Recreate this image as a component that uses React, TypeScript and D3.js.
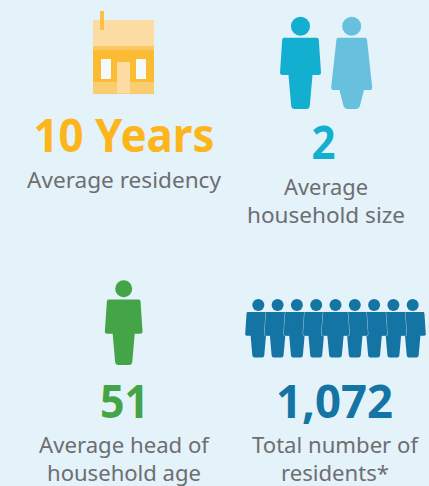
import React from "react";
import * as d3 from "d3";

const statValues = ["10 Years", "2", "51", "1,072"];
const statLabels = [["Average residency"], ["Average", "household size"], ["Average head of", "household age"], ["Total number of", "residents*"]];
const householdSize = 2;
const headCount = 1;
const residentIcons = 9;

const W = 429, H = 486;
const FONT = "'Noto Sans', sans-serif";
const BG = "#e4f2f9";
const GREY = "#6d6e71";
const colors = ["#fdb51c", "#12afd0", "#43a548", "#1474a4"];

// [cx, baseline, width] per text line
const valueLayout = [[124, 152.3, 181], [323.5, 158.7, 24], [124.5, 417.7, 49], [334.5, 417.7, 117]];
const labelLayout = [
  [[124, 188, 194]],
  [[326, 195, 84], [326, 222.7, 158]],
  [[124, 453.3, 170], [124, 480.7, 154]],
  [[335, 453.3, 166], [335, 481, 108]],
];

function man(cx: number, top: number, s: number, wide = 1) {
  const p = d3.path();
  const y = (v: number) => top + v * s;
  const x = (v: number) => cx + v * s * wide;
  p.moveTo(x(-16.5), y(21));
  p.lineTo(x(16.5), y(21));
  p.quadraticCurveTo(x(18), y(21), x(18.3), y(23));
  p.lineTo(x(20.5), y(56));
  p.quadraticCurveTo(x(20.5), y(58.3), x(18), y(58.3));
  p.lineTo(x(12), y(58.3));
  p.lineTo(x(9.3), y(89));
  p.quadraticCurveTo(x(8.8), y(92.3), x(6), y(92.3));
  p.lineTo(x(-6), y(92.3));
  p.quadraticCurveTo(x(-8.8), y(92.3), x(-9.3), y(89));
  p.lineTo(x(-12), y(58.3));
  p.lineTo(x(-18), y(58.3));
  p.quadraticCurveTo(x(-20.5), y(58.3), x(-20.5), y(56));
  p.lineTo(x(-18.3), y(23));
  p.quadraticCurveTo(x(-18), y(21), x(-16.5), y(21));
  p.closePath();
  return p.toString();
}

function woman(cx: number, top: number) {
  const p = d3.path();
  const y = (v: number) => top + v;
  const x = (v: number) => cx + v;
  p.moveTo(x(-13.5), y(21));
  p.lineTo(x(13.5), y(21));
  p.quadraticCurveTo(x(15), y(21), x(15.3), y(23));
  p.lineTo(x(20.5), y(70.5));
  p.quadraticCurveTo(x(20.8), y(73.3), x(18), y(73.3));
  p.lineTo(x(12.3), y(73.3));
  p.lineTo(x(8.5), y(88));
  p.quadraticCurveTo(x(7.5), y(92.3), x(4), y(92.3));
  p.lineTo(x(-4), y(92.3));
  p.quadraticCurveTo(x(-7.5), y(92.3), x(-8.5), y(88));
  p.lineTo(x(-12.3), y(73.3));
  p.lineTo(x(-18), y(73.3));
  p.quadraticCurveTo(x(-20.8), y(73.3), x(-20.5), y(70.5));
  p.lineTo(x(-15.3), y(23));
  p.quadraticCurveTo(x(-15), y(21), x(-13.5), y(21));
  p.closePath();
  return p.toString();
}

const residentX = d3.scalePoint<number>().domain(d3.range(residentIcons)).range([258.3, 412.7]);
const householdX = d3.scalePoint<number>().domain(d3.range(householdSize)).range([300.5, 351.7]);
const residentOrder = [0, 8, 1, 7, 2, 6, 3, 5, 4];

export default function App() {
  return (
    <svg width={W} height={H} viewBox={`0 0 ${W} ${H}`} style={{ position: "fixed", left: 0, top: 0, display: "block" }}>
      <rect width={W} height={H} fill={BG} />

      {/* house */}
      <g>
        <rect x={93} y={20} width={61} height={26} fill="#fddca4" />
        <rect x={100} y={11} width={4} height={19} fill="#fbbf4a" />
        <rect x={93} y={46} width={61} height={4} fill="#fcc861" />
        <rect x={93} y={50} width={61} height={32} fill="#fbbc33" />
        <rect x={93} y={82} width={61} height={11.3} fill="#fbcd72" />
        <rect x={93} y={93.3} width={61} height={0.7} fill="#fbbc33" />
        <rect x={101} y={59} width={10} height={20} fill="#f4f9fb" />
        <rect x={136} y={59} width={10} height={20} fill="#f4f9fb" />
        <rect x={117} y={62} width={13} height={31.3} fill="#fddca4" />
      </g>

      {/* household */}
      {d3.range(householdSize).map((i) => {
        const cx = householdX(i)!;
        const fill = i === 0 ? colors[1] : "#67c0dd";
        return (
          <g key={i} fill={fill}>
            <circle cx={cx} cy={26.3} r={9.5} />
            <path d={i === 0 ? man(cx, 16.7, 1) : woman(cx, 16.7)} />
          </g>
        );
      })}

      {/* head of household */}
      {d3.range(headCount).map((i) => (
        <g key={i} fill={colors[2]}>
          <circle cx={123.7} cy={288.7} r={8.5} />
          <path d={man(123.7, 280.2, 0.92)} />
        </g>
      ))}

      {/* residents */}
      {residentOrder.map((i) => {
        const cx = residentX(i)!;
        return (
          <g key={i} fill={colors[3]}>
            <circle cx={cx} cy={305} r={6} />
            <path d={man(cx, 298.5, 0.64, i === 4 ? 1.06 : 1)} stroke={BG} strokeWidth={0.7} paintOrder="stroke" />
          </g>
        );
      })}

      {statValues.map((v, i) => (
        <text key={v} x={valueLayout[i][0]} y={valueLayout[i][1]} textAnchor="middle" fill={colors[i]}
          fontFamily={FONT} fontWeight={700} fontSize={46}
          textLength={valueLayout[i][2]} lengthAdjust="spacingAndGlyphs">{v}</text>
      ))}
      {statLabels.map((lines, i) => lines.map((l, j) => (
        <text key={l} x={labelLayout[i][j][0]} y={labelLayout[i][j][1]} textAnchor="middle" fill={GREY}
          fontFamily={FONT} fontSize={22}
          textLength={labelLayout[i][j][2]} lengthAdjust="spacingAndGlyphs">{l}</text>
      )))}
    </svg>
  );
}
